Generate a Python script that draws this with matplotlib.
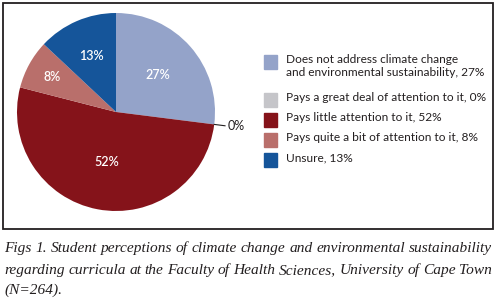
import numpy as np
import matplotlib
matplotlib.use("Agg")
import matplotlib.pyplot as plt
from matplotlib.patches import Rectangle

# Survey answers (share of students, %)
categories = [
    "Does not address climate change\nand environmental sustainability, 27%",
    "Pays a great deal of attention to it, 0%",
    "Pays little attention to it, 52%",
    "Pays quite a bit of attention to it, 8%",
    "Unsure, 13%",
]
values = [27, 0, 52, 8, 13]
pct_labels = ["27%", "0%", "52%", "8%", "13%"]
colors = ["#94a3c9", "#c5c5c9", "#85131a", "#b96f6b", "#15559a"]
label_radius = [0.56, 1.14, 0.51, 0.74, 0.62]

caption_lines = [
    "Figs 1. Student perceptions of climate change and environmental sustainability",
    "regarding curricula at the Faculty of Health Sciences, University of Cape Town",
    "(N=264).",
]

W, H = 496, 306
fig = plt.figure(figsize=(W / 100, H / 100), dpi=100)

# frame around chart
fig.patches.append(Rectangle((3 / W, 1 - 229 / H), 490 / W, 226 / H,
                             transform=fig.transFigure, fill=False,
                             edgecolor="#231f20", linewidth=1.3))

sans = ["Lato", "DejaVu Sans"]

ax = fig.add_axes([17 / W, 1 - 211 / H, 198 / W, 198 / H])
wedges, _ = ax.pie(values, colors=colors, startangle=90, counterclock=False,
                   wedgeprops=dict(linewidth=0))
ax.set_aspect("equal")
ax.set_xlim(-1, 1)
ax.set_ylim(-1, 1)

for w, lab, r, v in zip(wedges, pct_labels, label_radius, values):
    ang = np.deg2rad((w.theta1 + w.theta2) / 2)
    x, y = r * np.cos(ang), r * np.sin(ang)
    if v == 0:
        ax.plot([np.cos(ang), 1.11 * np.cos(ang)], [np.sin(ang), 1.11 * np.sin(ang)],
                color="#231f20", lw=0.8, clip_on=False)
        ax.text(x, y, lab, ha="left", va="center", fontsize=9,
                color="#231f20", family=sans)
    else:
        ax.text(x, y, lab, ha="center", va="center", fontsize=9,
                color="white", family=sans, fontweight="semibold")

# legend
leg_y = [62, 100, 120, 140, 160]
for c, lab, y in zip(colors, categories, leg_y):
    fig.patches.append(Rectangle((264 / W, 1 - (y + 7) / H), 13 / W, 14 / H,
                                 transform=fig.transFigure, color=c))
    fig.text(286 / W, 1 - (y - 8) / H, lab, ha="left", va="top",
             fontsize=8.6, color="#231f20", family=sans, linespacing=1.25)

# justified italic caption (baselines)
fig.canvas.draw()
renderer = fig.canvas.get_renderer()
left, right = 4, 492
cap_y = [252, 274, 294]
for i, (line, y) in enumerate(zip(caption_lines, cap_y)):
    words = line.split(" ")
    texts = [fig.text(0, 1 - y / H, wd, ha="left", va="baseline", fontsize=11.1,
                      style="italic", family=["Liberation Serif", "DejaVu Serif"],
                      color="#231f20")
             for wd in words]
    widths = [t.get_window_extent(renderer).width for t in texts]
    if i < len(caption_lines) - 1 and len(words) > 1:
        gap = (right - left - sum(widths)) / (len(words) - 1)
    else:
        gap = 3.5
    x = left
    for t, wdt in zip(texts, widths):
        t.set_x(x / W)
        x += wdt + gap

fig.savefig("out.png", dpi=100)
